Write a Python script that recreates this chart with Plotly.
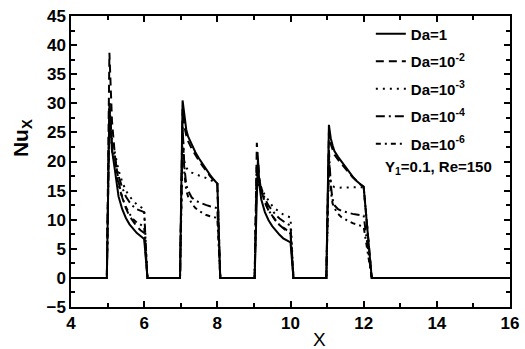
import plotly.graph_objects as go

# X positions shared by all series (zeros between heated blocks)
x_pts = [4.0, 4.98,
         5.05, 5.08, 5.12, 5.2, 5.3, 5.4, 5.5, 5.6, 5.7, 5.8, 5.9, 6.0,
         6.09, 6.98,
         7.05, 7.1, 7.15, 7.2, 7.3, 7.4, 7.5, 7.6, 7.7, 7.8, 7.9, 8.0,
         8.08, 9.02,
         9.08, 9.11, 9.15, 9.2, 9.3, 9.4, 9.5, 9.6, 9.7, 9.8, 9.9, 10.0,
         10.08, 10.98,
         11.05, 11.1, 11.15, 11.2, 11.3, 11.4, 11.5, 11.6, 11.7, 11.8, 11.9, 12.0,
         12.22, 16.0]

nu_da1 = [0, 0,
          29, 26, 22, 18.5, 14, 11.8, 10.3, 9.2, 8.4, 7.7, 7.2, 6.7,
          0, 0,
          30.5, 27.5, 25.5, 24.3, 22.8, 21.6, 20.5, 19.5, 18.6, 17.7, 16.9, 16.2,
          0, 0,
          14, 20.5, 16, 13.5, 11.3, 9.9, 8.9, 8.1, 7.4, 6.8, 6.4, 6.1,
          0, 0,
          26.3, 24, 22.8, 21.8, 20.8, 19.9, 19.0, 18.2, 17.4, 16.7, 16.1, 15.6,
          0, 0]

nu_da2 = [0, 0,
          38.7, 33, 27, 21, 16.5, 13.8, 12.0, 10.6, 9.6, 8.8, 8.2, 7.7,
          0, 0,
          29, 26, 24.5, 23.5, 22.2, 21.1, 20.1, 19.2, 18.3, 17.5, 16.8, 16.2,
          0, 0,
          23.2, 19.5, 17, 15, 13, 11.6, 10.6, 9.8, 9.1, 8.5, 8.0, 7.6,
          0, 0,
          25, 23, 22, 21.2, 20.3, 19.5, 18.7, 18.0, 17.3, 16.7, 16.1, 15.7,
          0, 0]

nu_da3 = [0, 0,
          30, 27, 24, 21.5, 18.5, 16.5, 15.0, 14.0, 13.2, 12.6, 12.2, 11.8,
          0, 0,
          22, 20, 19, 18.5, 18.1, 17.8, 17.6, 17.4, 17.2, 16.9, 16.5, 16.2,
          0, 0,
          19, 18, 16.5, 15.5, 14.2, 13.2, 12.4, 11.8, 11.3, 10.9, 10.6, 10.4,
          0, 0,
          20, 16.5, 15.8, 15.6, 15.5, 15.5, 15.5, 15.5, 15.6, 15.6, 15.6, 15.6,
          0, 0]

nu_da4 = [0, 0,
          30, 27, 23, 20.5, 17.5, 15.5, 14, 13, 12.3, 11.8, 11.5, 11.3,
          0, 0,
          26, 19, 16, 15, 13.8, 13.3, 13.0, 12.7, 12.5, 12.3, 12.1, 12.0,
          0, 0,
          19, 17.5, 16, 15.5, 13.6, 12.4, 11.5, 10.8, 10.2, 9.7, 9.3, 9.0,
          0, 0,
          22, 16, 13.5, 12.5, 11.8, 11.5, 11.3, 11.1, 11.0, 10.9, 10.8, 10.7,
          0, 0]

nu_da6 = [0, 0,
          30, 26, 22, 19.5, 16, 13.8, 12.2, 11.0, 10.1, 9.5, 9.1, 8.8,
          0, 0,
          26, 18, 15, 14, 12.8, 12.0, 11.5, 11.1, 10.8, 10.6, 10.4, 10.3,
          0, 0,
          19, 17, 15.5, 15, 13, 11.6, 10.6, 9.8, 9.1, 8.6, 8.2, 7.9,
          0, 0,
          21, 15, 12.8, 12, 11.0, 10.4, 10.0, 9.7, 9.4, 9.2, 9.0, 8.8,
          0, 0]

series_names = ["Da=1", "Da=10<sup>-2</sup>", "Da=10<sup>-3</sup>",
                "Da=10<sup>-4</sup>", "Da=10<sup>-6</sup>"]
series_vals = [nu_da1, nu_da2, nu_da3, nu_da4, nu_da6]
series_dash = ["solid", "8px,5px", "2px,5px", "9px,4px,2px,4px", "5px,4px,2px,4px"]

x_ticks = [4, 6, 8, 10, 12, 14, 16]
y_ticks = [-5, 0, 5, 10, 15, 20, 25, 30, 35, 40, 45]

FONT = "Liberation Sans, Arial, sans-serif"

fig = go.Figure()
for i, (name, vals, dash) in enumerate(zip(series_names, series_vals, series_dash)):
    fig.add_trace(go.Scatter(
        x=x_pts, y=vals, mode="lines", name=name,
        legendgroup=f"g{i}",
        line=dict(color="black", width=2, dash=dash),
    ))

axis_common = dict(
    showline=True, linecolor="black", linewidth=1.5, mirror="ticks",
    ticks="inside", tickcolor="black", tickwidth=1.5, ticklen=6,
    showgrid=False, zeroline=False, ticklabeloverflow="allow",
    tickfont=dict(family=FONT, size=17, color="black", weight="bold"),
)

fig.update_xaxes(range=[4, 16], tickvals=x_ticks,
                 minor=dict(ticks="inside", dtick=1, ticklen=4,
                            tickcolor="black", tickwidth=1.5),
                 **axis_common)
fig.update_yaxes(range=[-5, 45], tickvals=y_ticks,
                 minor=dict(ticks="inside", dtick=2.5, ticklen=4,
                            tickcolor="black", tickwidth=1.5),
                 **axis_common)

fig.update_layout(
    width=525, height=349,
    margin=dict(l=71, r=6, t=16, b=42),
    paper_bgcolor="white", plot_bgcolor="white",
    showlegend=True,
    legend=dict(x=0.683, y=0.995, xanchor="left", yanchor="top",
                bgcolor="rgba(0,0,0,0)", tracegroupgap=5,
                font=dict(family=FONT, size=15, color="black", weight="bold")),
    annotations=[
        dict(text="Y<sub>1</sub>=0.1, Re=150", xref="paper", yref="paper",
             x=0.71, y=0.478, xanchor="left", yanchor="middle", showarrow=False,
             font=dict(family=FONT, size=15, color="black", weight="bold")),
        dict(text="Nu<sub>X</sub>", xref="paper", yref="paper",
             x=-0.112, y=0.58, xanchor="center", yanchor="middle", showarrow=False,
             textangle=-90,
             font=dict(family=FONT, size=21, color="black", weight="bold")),
        dict(text="X", xref="paper", yref="paper",
             x=0.567, y=-0.11, xanchor="center", yanchor="middle", showarrow=False,
             font=dict(family=FONT, size=19, color="black")),
    ],
)

fig.write_html("out.html")
